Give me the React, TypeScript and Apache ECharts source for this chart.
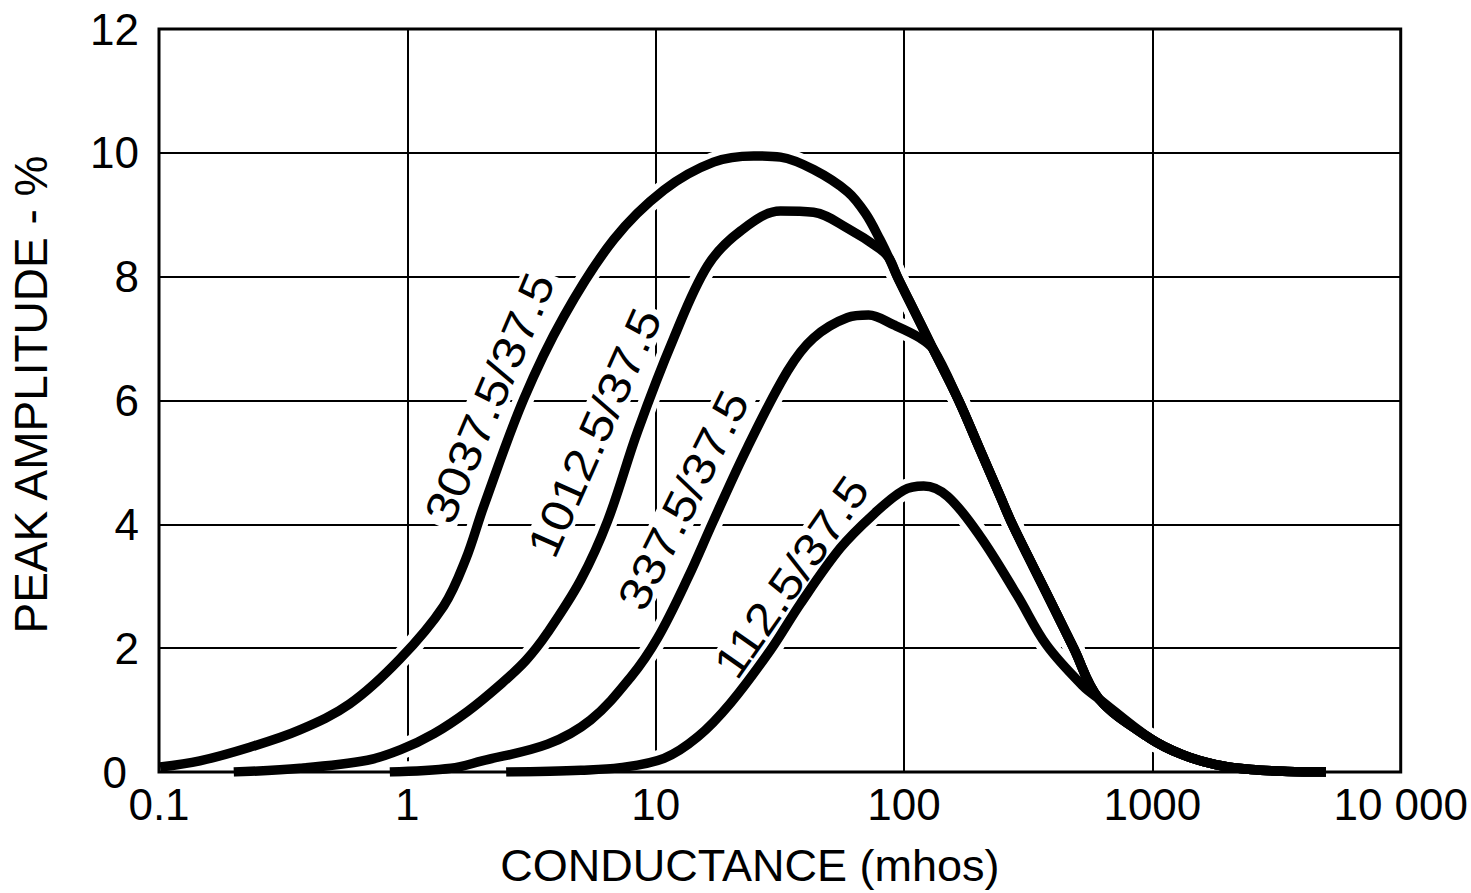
import React, { useEffect, useRef } from 'react';
import * as echarts from 'echarts';

// Axis ticks
const xTickLabels = ['0.1', '1', '10', '100', '1000', '10 000'];
const xGridValues = [1, 10, 100, 1000];
const yGridValues = [2, 4, 6, 8, 10];
const yMin = 0;
const yMax = 12;
const yInterval = 2;
const xMin = 0.1;
const xMax = 10000;

// Curve names (shown as in-plot labels)
const curveNames = ['3037.5/37.5', '1012.5/37.5', '337.5/37.5', '112.5/37.5'];

// Curve 3037.5/37.5
const condA = [0.101, 0.146, 0.232, 0.369, 0.586, 0.931, 1.4, 1.72, 2.03, 2.94, 4.27, 6.78, 10.8, 17.1, 24.8, 31.8, 43.2, 59.3, 70, 80, 87, 94, 105, 131, 166, 200, 244, 273, 332, 400, 482, 610, 973, 1321, 1800, 2500, 3500, 5000];
const ampA = [0.08, 0.18, 0.4, 0.68, 1.1, 1.82, 2.68, 3.44, 4.29, 6.02, 7.36, 8.6, 9.4, 9.85, 9.95, 9.93, 9.73, 9.37, 9.02, 8.6, 8.3, 8.0, 7.61, 6.83, 6.0, 5.25, 4.45, 4.0, 3.31, 2.66, 2.0, 1.18, 0.55, 0.28, 0.12, 0.04, 0.01, 0];

// Curve 1012.5/37.5
const condB = [0.2, 0.37, 0.69, 0.94, 1.28, 1.75, 2.38, 3.0, 3.67, 4.99, 6.41, 8.47, 11.8, 16.2, 22.0, 31.8, 43.2, 59.3, 80, 87, 94, 105, 131, 166, 200, 244, 273, 332, 400, 482, 610, 973, 1321, 1800, 2500, 3500, 5000];
const ampB = [0, 0.06, 0.19, 0.36, 0.62, 0.98, 1.42, 1.8, 2.25, 3.1, 4.06, 5.51, 7.0, 8.18, 8.74, 9.06, 9.04, 8.78, 8.45, 8.3, 8.0, 7.61, 6.83, 6.0, 5.25, 4.45, 4.0, 3.31, 2.66, 2.0, 1.18, 0.55, 0.28, 0.12, 0.04, 0.01, 0];

// Curve 337.5/37.5
const condC = [0.85, 1.5, 2.0, 3.67, 5.47, 7.93, 10.2, 13.5, 17.1, 23.4, 34.0, 43.2, 59.3, 72, 91, 116, 131, 166, 200, 244, 273, 332, 400, 482, 610, 973, 1321, 1800, 2500, 3500, 5000];
const ampC = [0, 0.06, 0.18, 0.45, 0.84, 1.53, 2.17, 3.14, 4.06, 5.24, 6.48, 7.01, 7.34, 7.38, 7.22, 7.01, 6.83, 6.0, 5.25, 4.45, 4.0, 3.31, 2.66, 2.0, 1.18, 0.55, 0.28, 0.12, 0.04, 0.01, 0];

// Curve 112.5/37.5
const condD = [2.5, 5, 7.2, 10.8, 14.8, 20, 29, 38.3, 55.5, 75.3, 99.5, 120, 150, 203, 286, 375, 528, 610, 973, 1321, 1800, 2500, 3500, 5000];
const ampD = [0, 0.03, 0.07, 0.22, 0.57, 1.11, 1.97, 2.72, 3.62, 4.16, 4.55, 4.62, 4.45, 3.8, 2.85, 2.05, 1.38, 1.18, 0.55, 0.28, 0.12, 0.04, 0.01, 0];

// In-plot label anchors (data coordinates) and angles (degrees)
const labelCond = [2.146, 5.67, 12.94, 35.2];
const labelAmp = [6.04, 5.48, 4.39, 3.15];
const labelAngle = [67, 66, 63.4, 55];

const FONT = '"Liberation Sans", Arial, Helvetica, sans-serif';

export default function App() {
  const ref = useRef<HTMLDivElement>(null);

  useEffect(() => {
    const chart = echarts.init(ref.current as HTMLDivElement, null, { renderer: 'svg' });
    const curves = [
      { name: curveNames[0], x: condA, y: ampA },
      { name: curveNames[1], x: condB, y: ampB },
      { name: curveNames[2], x: condC, y: ampC },
      { name: curveNames[3], x: condD, y: ampD },
    ];
    const toData = (c: { x: number[]; y: number[] }) => c.x.map((v, i) => [v, c.y[i]]);
    const smooth = 0.35;

    // grid lines drawn as a marker series (low z) so that the curve halos can open them
    const gridSeries = {
      type: 'line',
      name: 'grid',
      data: [],
      symbol: 'none',
      silent: true,
      z: 1,
      markLine: {
        z: 1,
        silent: true,
        animation: false,
        symbol: ['none', 'none'],
        label: { show: false },
        emphasis: { disabled: true },
        lineStyle: { color: '#000', width: 2, type: 'solid' },
        data: [
          ...xGridValues.map((v) => ({ xAxis: v })),
          ...yGridValues.map((v) => ({ yAxis: v })),
        ],
      },
    };

    // white halos that open the grid lines where the curves cross them
    const halos = curves.map((c) => ({
      type: 'line',
      name: c.name + ' halo',
      data: toData(c),
      symbol: 'none',
      smooth,
      silent: true,
      z: 3,
      lineStyle: { color: '#ffffff', width: 20, cap: 'butt', join: 'round' },
    }));
    const lines = curves.map((c) => ({
      type: 'line',
      name: c.name,
      data: toData(c),
      symbol: 'none',
      smooth,
      z: 6,
      lineStyle: { color: '#000000', width: 9.5, cap: 'butt', join: 'round' },
    }));

    chart.setOption({
      animation: false,
      backgroundColor: '#ffffff',
      grid: { left: 159, right: 69, top: 29, bottom: 117, show: false },
      xAxis: {
        type: 'log',
        logBase: 10,
        min: xMin,
        max: xMax,
        axisLine: { show: false },
        axisTick: { show: false },
        splitLine: { show: false },
        axisLabel: {
          color: '#000',
          fontFamily: FONT,
          fontSize: 44,
          lineHeight: 34,
          margin: 15,
          formatter: (v: number) => xTickLabels[Math.round(Math.log10(v)) + 1] ?? String(v),
        },
        name: 'CONDUCTANCE (mhos)',
        nameLocation: 'middle',
        nameGap: 71,
        nameTextStyle: { color: '#000', fontFamily: FONT, fontSize: 45, padding: [0, 60, 0, 0] },
      },
      yAxis: {
        type: 'value',
        min: yMin,
        max: yMax,
        interval: yInterval,
        axisLine: { show: false },
        axisTick: { show: false },
        splitLine: { show: false },
        axisLabel: {
          color: '#000',
          fontFamily: FONT,
          fontSize: 44,
          lineHeight: 34,
          margin: 20,
          formatter: (v: number) => (v === 0 ? '{z|0}' : String(v)),
          rich: {
            z: { color: '#000', fontFamily: FONT, fontSize: 44, lineHeight: 34, padding: [0, 12, 0, 0] },
          },
        },
        name: 'PEAK AMPLITUDE - %',
        nameLocation: 'middle',
        nameRotate: 90,
        nameGap: 105,
        nameTextStyle: { color: '#000', fontFamily: FONT, fontSize: 46, padding: [0, 0, 0, 12] },
      },
      series: [gridSeries, ...halos, ...lines],
    });

    const labels = curveNames.map((t, i) => {
      const p = chart.convertToPixel({ xAxisIndex: 0, yAxisIndex: 0 }, [labelCond[i], labelAmp[i]]) as number[];
      return {
        type: 'text',
        x: p[0],
        y: p[1],
        rotation: (labelAngle[i] * Math.PI) / 180,
        scaleX: 1.12,
        z: 4,
        silent: true,
        style: {
          text: t,
          fill: '#000',
          fontFamily: FONT,
          fontSize: 45,
          lineHeight: 40,
          align: 'center',
          verticalAlign: 'middle',
          backgroundColor: '#ffffff',
          padding: [0, 4],
        },
      };
    });
    const p0 = chart.convertToPixel({ xAxisIndex: 0, yAxisIndex: 0 }, [xMin, yMin]) as number[];
    const p1 = chart.convertToPixel({ xAxisIndex: 0, yAxisIndex: 0 }, [xMax, yMax]) as number[];
    const frame = {
      type: 'rect',
      z: 60,
      silent: true,
      shape: { x: p0[0], y: p1[1], width: p1[0] - p0[0], height: p0[1] - p1[1] },
      style: { fill: 'none', stroke: '#000', lineWidth: 3 },
    };
    chart.setOption({ graphic: [...labels, frame] });

    return () => chart.dispose();
  }, []);

  return (
    <div
      ref={ref}
      style={{ position: 'fixed', left: 0, top: 0, width: 1471, height: 893, background: '#fff' }}
    />
  );
}
